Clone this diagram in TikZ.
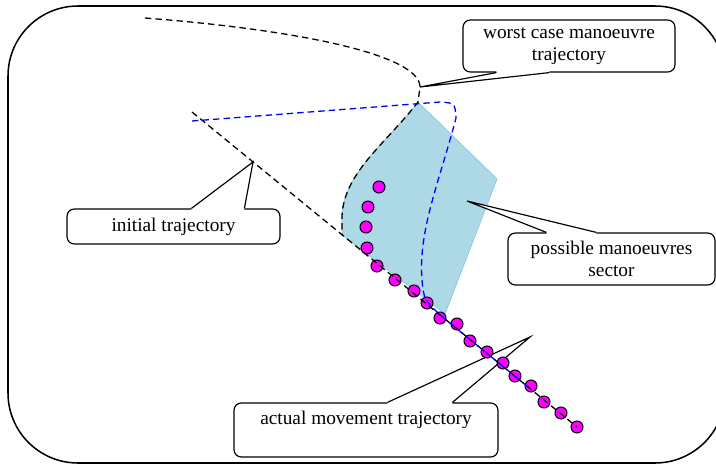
\documentclass[tikz,border=0pt]{standalone}
\usepackage{fontspec}
\setmainfont{Liberation Serif}
\usetikzlibrary{positioning,calc}
\definecolor{sectorblue}{RGB}{173,216,230}
\definecolor{sectoredge}{RGB}{140,200,218}
\definecolor{dotpink}{RGB}{255,0,255}

\begin{document}
\begin{tikzpicture}[
x=0.03cm, y=-0.03cm,
frame/.style={draw=black, line width=1.3pt, rounded corners=2.1cm},
note/.style={draw=black, fill=white, line width=1pt, rounded corners=0.22cm, align=center, inner sep=0pt, font=\fontsize{16.5}{19}\selectfont},
wedge/.style={draw=black, line width=1pt, line join=miter},
traj/.style={line width=1.1pt, dash pattern=on 5.5pt off 3.5pt},
dot/.style={circle, draw=black, fill=dotpink, line width=0.9pt, minimum size=0.36cm, inner sep=0pt},
sector/.style={fill=sectorblue, draw=sectoredge, line width=0.6pt},
]
\useasboundingbox (0,0) rectangle (716,464);

\draw[frame] (8,6) rectangle (725,463);

\coordinate (i0) at (192,112);
\coordinate (i1) at (577,427);

% sector of possible manoeuvres
\filldraw[sector] (418,102) -- (497,179) -- (445,314) -- ($(i0)!0.39!(i1)$) -- (342,222)
  .. controls (340,175) and (385,145) .. (418,102) -- cycle;

% callouts
\node[note, minimum width=6.36cm, minimum height=1.56cm] (worst) at (569,46) {worst case manoeuvre\\trajectory};
\node[note, minimum width=6.39cm, minimum height=1.05cm] (initial) at (173.5,226.5) {initial trajectory};
\node[note, minimum width=6.21cm, minimum height=1.56cm] (possible) at (611.5,259) {possible manoeuvres\\sector};
\node[note, minimum width=7.92cm, text height=0.63cm, text depth=0.99cm] (actual) at (366,430) {actual movement trajectory};

\coordinate (worsttip) at (420,87);
\coordinate (initialtip) at (253,162);
\coordinate (possibletip) at (467,201);
\coordinate (actualtip) at (530,337);

\coordinate (w1) at ($(worst.south west)+(34,0)$);
\coordinate (w2) at ($(worst.south west)+(87,0)$);
\fill[white] ($(w1)+(0,-2)$) -- ($(w1)+(0,1)$) -- (worsttip) -- ($(w2)+(0,1)$) -- ($(w2)+(0,-2)$) -- cycle;
\draw[wedge] (w1) -- (worsttip) -- (w2);

\coordinate (n1) at ($(initial.north west)+(125,0)$);
\coordinate (n2) at ($(initial.north west)+(178,0)$);
\fill[white] ($(n1)+(0,2)$) -- ($(n1)+(0,-1)$) -- (initialtip) -- ($(n2)+(0,-1)$) -- ($(n2)+(0,2)$) -- cycle;
\draw[wedge] (n1) -- (initialtip) -- (n2);

\coordinate (p1) at ($(possible.north west)+(39,0)$);
\coordinate (p2) at ($(possible.north west)+(89,0)$);
\fill[white] ($(p1)+(0,2)$) -- ($(p1)+(0,-1)$) -- (possibletip) -- ($(p2)+(0,-1)$) -- ($(p2)+(0,2)$) -- cycle;
\draw[wedge] (p1) -- (possibletip) -- (p2);

\coordinate (a1) at ($(actual.north west)+(154,0)$);
\coordinate (a2) at ($(actual.north west)+(219,0)$);
\fill[white] ($(a1)+(0,2)$) -- ($(a1)+(0,-1)$) -- (actualtip) -- ($(a2)+(0,-1)$) -- ($(a2)+(0,2)$) -- cycle;
\draw[wedge] (a1) -- (actualtip) -- (a2);

% actual movement
\foreach \p [count=\i] in {(379,187),(368,207),(366,227),(367,248),(377,266),(395,280),
  (414,291),(427,303),(440,318),(457,324),(470,341),(487,352),(503,363),(515,376),
  (531,386),(544,402),(561,413),(577,427)}
  \node[dot] (d\i) at \p {};

% trajectories
\draw[traj] (i0) -- (i1);
\draw[traj] (145,18) .. controls (300,30) and (420,55) .. (420,87) -- (418,102)
  .. controls (385,145) and (340,175) .. (342,222) -- ($(i0)!0.39!(i1)$);
\draw[traj, blue] (192,121) -- (440,102) .. controls (455,103) .. (456,118)
  .. controls (440,180) and (418,230) .. (422,280) .. controls (424,300) .. ($(i0)!0.65!(i1)$)
  -- ($(i0)!0.877!(i1)$);

\end{tikzpicture}
\end{document}
